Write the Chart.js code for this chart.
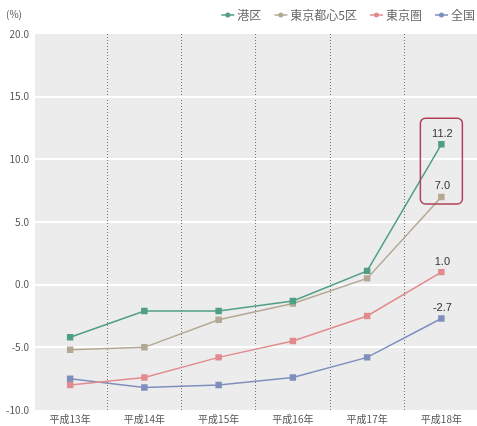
<!DOCTYPE html>
<html>
<head>
<meta charset="utf-8">
<script src="https://cdn.jsdelivr.net/npm/chart.js@4"></script>
<style>
  html, body { margin: 0; padding: 0; background: #fff; overflow: hidden; }
</style>
</head>
<body>
<!-- a bit wider than the window: the plot runs past the right edge in the original -->
<canvas id="rate" width="484" height="426"></canvas>
<script>
const years = ['平成13年', '平成14年', '平成15年', '平成16年', '平成17年', '平成18年'];
const minato = [-4.2, -2.1, -2.1, -1.3, 1.1, 11.2];
const toshin5 = [-5.2, -5.0, -2.8, -1.5, 0.5, 7.0];
const tokyoken = [-8.0, -7.4, -5.8, -4.5, -2.5, 1.0];
const zenkoku = [-7.5, -8.2, -8.0, -7.4, -5.8, -2.7];
const seriesNames = ['港区', '東京都心5区', '東京圏', '全国'];
const yTicks = [-10, -5, 0, 5, 10, 15, 20];

const colors = ['#4f9e86', '#b3a894', '#e28b8e', '#7f8fbd'];
const FONT = "'Liberation Sans Narrow', 'Noto Sans CJK JP', sans-serif";

const plotBackground = {
  id: 'plotBackground',
  beforeDraw(chart) {
    const { ctx, chartArea: { top, height } } = chart;
    ctx.save();
    ctx.fillStyle = '#ececec';
    ctx.fillRect(35, top, 477 - 35, height);
    ctx.restore();
  },
};

// legend, unit label, last-point values and the highlight box
const extras = {
  id: 'extras',
  afterDraw(chart) {
    const { ctx } = chart;
    ctx.save();
    ctx.fillStyle = '#555';
    ctx.font = "10px 'Noto Sans CJK JP', sans-serif";
    ctx.textBaseline = 'middle';
    ctx.fillText('(%)', 6, 14);

    ctx.font = "12px 'Noto Sans CJK JP', sans-serif";
    const items = chart.data.datasets.map((d) => ({ text: d.label, color: d.borderColor }));
    const gap = 13;
    const sym = 13;
    let total = 0;
    items.forEach((it) => { it.w = sym + 3 + ctx.measureText(it.text).width; total += it.w; });
    total += gap * (items.length - 1);
    let x = 475 - total;
    const y = 15;
    items.forEach((it) => {
      ctx.strokeStyle = it.color;
      ctx.lineWidth = 1.5;
      ctx.beginPath();
      ctx.moveTo(x, y);
      ctx.lineTo(x + sym, y);
      ctx.stroke();
      ctx.fillStyle = it.color;
      ctx.beginPath();
      ctx.arc(x + sym / 2, y, 2.5, 0, Math.PI * 2);
      ctx.fill();
      ctx.fillStyle = '#666';
      ctx.fillText(it.text, x + sym + 3, y + 0.5);
      x += it.w + gap;
    });

    // value labels on the last points
    ctx.font = "11px 'Liberation Sans Narrow', sans-serif";
    ctx.fillStyle = '#333';
    ctx.textAlign = 'center';
    ctx.textBaseline = 'bottom';
    const last = years.length - 1;
    chart.data.datasets.forEach((d, i) => {
      const pt = chart.getDatasetMeta(i).data[last];
      ctx.fillText(d.data[last].toFixed(1), pt.x + 1, pt.y - 5);
    });

    // rounded box around 港区 / 都心5区
    const xs = chart.scales.x;
    const ys = chart.scales.y;
    const cx = xs.getPixelForValue(last);
    const bx = cx - 21;
    const by = ys.getPixelForValue(minato[last]) - 26;
    const bw = 42;
    const bh = ys.getPixelForValue(toshin5[last]) + 7 - by;
    ctx.strokeStyle = '#b0405a';
    ctx.lineWidth = 1.5;
    ctx.beginPath();
    ctx.roundRect(bx, by, bw, bh, 5);
    ctx.stroke();
    ctx.restore();
  },
};

const data = [minato, toshin5, tokyoken, zenkoku];

new Chart(document.getElementById('rate'), {
  type: 'line',
  data: {
    labels: years,
    datasets: data.map((values, i) => ({
      label: seriesNames[i],
      data: values,
      borderColor: colors[i],
      backgroundColor: colors[i],
      borderWidth: 1.5,
      pointStyle: 'rect',
      pointRadius: 3.5,
      pointBackgroundColor: colors[i],
      pointBorderColor: colors[i],
      tension: 0,
    })),
  },
  options: {
    responsive: false,
    animation: false,
    events: [],
    layout: {
      padding: { top: 34, right: 1, left: 0, bottom: 0 },
    },
    plugins: {
      legend: { display: false },
      tooltip: { enabled: false },
    },
    scales: {
      x: {
        offset: true,
        grid: {
          offset: true,
          // only the dividers between years, not the two outer edges
          color: (c) => (c.type !== 'tick' || c.index === 0 ? 'transparent' : '#777'),
          lineWidth: 1,
          drawTicks: false,
        },
        border: { display: false, dash: [1, 2] },
        ticks: {
          color: '#555',
          padding: 3,
          maxRotation: 0,
          font: { family: "'Noto Sans CJK JP', sans-serif", size: 10 },
        },
        afterFit(scale) {
          scale.height = 16;
          scale.paddingLeft = 0;
          scale.paddingRight = 0;
        },
      },
      y: {
        min: -10,
        max: 20,
        afterBuildTicks(scale) { scale.ticks = yTicks.map((v) => ({ value: v })); },
        grid: {
          color: '#fff',
          lineWidth: (c) => (c.tick && (c.tick.value === 20 || c.tick.value === -10) ? 0 : 2),
          drawTicks: false,
        },
        border: { display: false },
        ticks: {
          color: '#555',
          padding: 4,
          font: { family: FONT, size: 10 },
          callback: (v) => Number(v).toFixed(1),
        },
        afterFit(scale) { scale.width = 33; },
      },
    },
  },
  plugins: [plotBackground, extras],
});
</script>
</body>
</html>
